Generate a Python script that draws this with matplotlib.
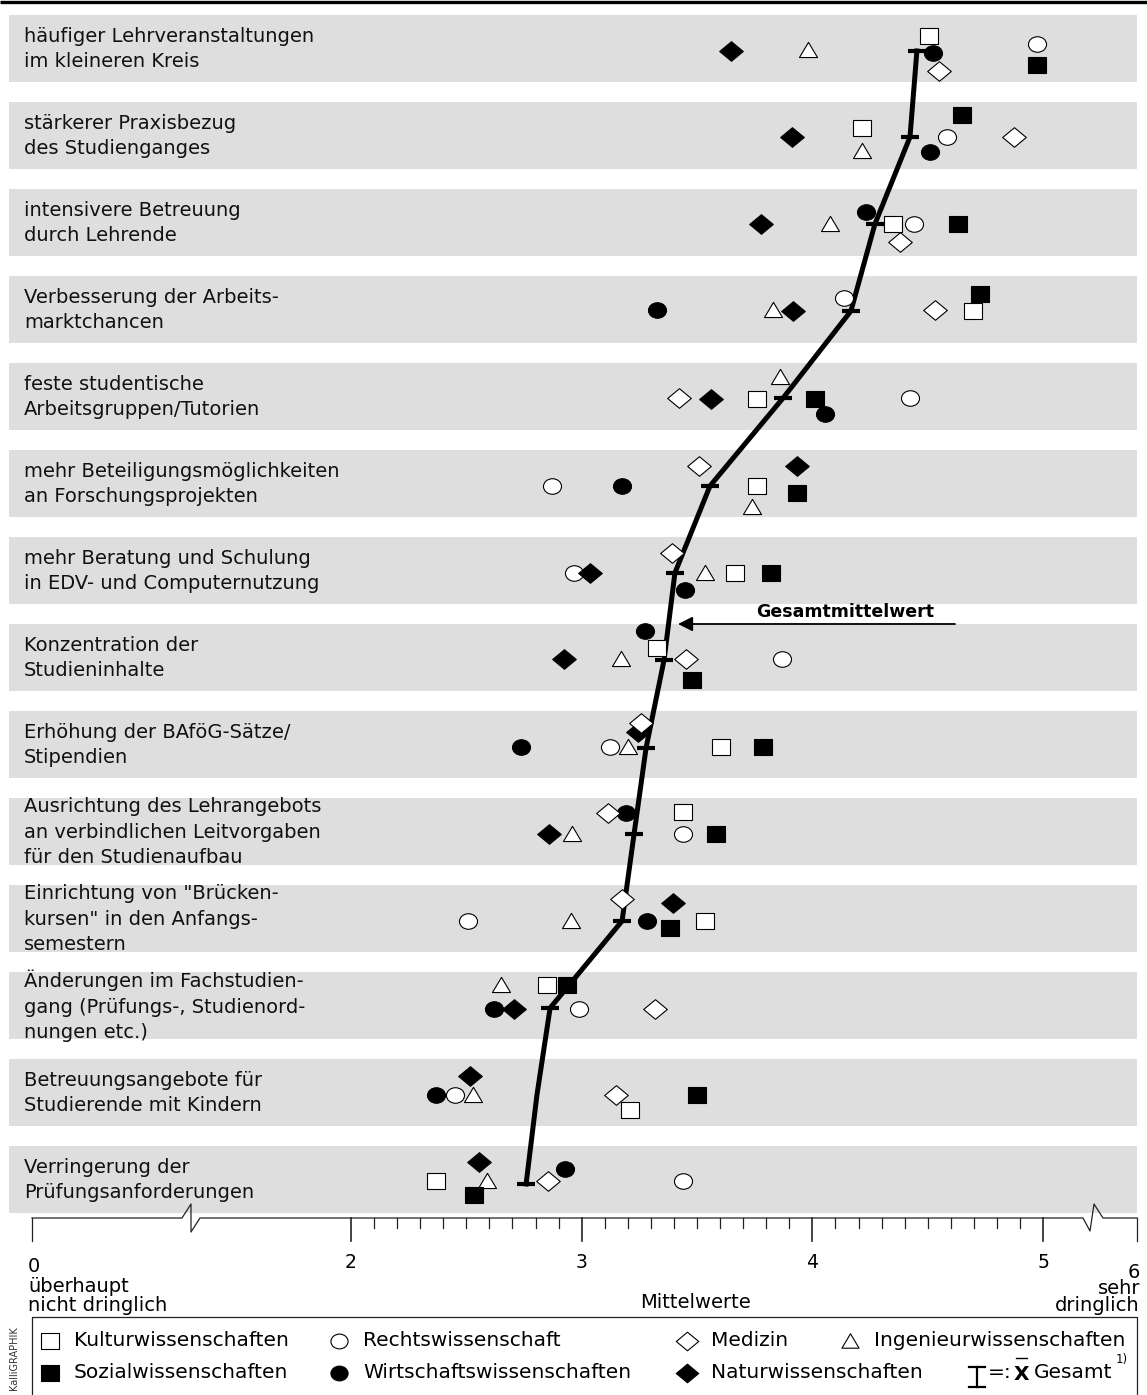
import numpy as np
import matplotlib
matplotlib.use("Agg")
import matplotlib.pyplot as plt
from matplotlib.path import Path

plt.rcParams['font.family'] = ['DejaVu Sans']

# ---------------- data ----------------
categories = [
    "häufiger Lehrveranstaltungen\nim kleineren Kreis",
    "stärkerer Praxisbezug\ndes Studienganges",
    "intensivere Betreuung\ndurch Lehrende",
    "Verbesserung der Arbeits-\nmarktchancen",
    "feste studentische\nArbeitsgruppen/Tutorien",
    "mehr Beteiligungsmöglichkeiten\nan Forschungsprojekten",
    "mehr Beratung und Schulung\nin EDV- und Computernutzung",
    "Konzentration der\nStudieninhalte",
    "Erhöhung der BAföG-Sätze/\nStipendien",
    "Ausrichtung des Lehrangebots\nan verbindlichen Leitvorgaben\nfür den Studienaufbau",
    "Einrichtung von \"Brücken-\nkursen\" in den Anfangs-\nsemestern",
    "Änderungen im Fachstudien-\ngang (Prüfungs-, Studienord-\nnungen etc.)",
    "Betreuungsangebote für\nStudierende mit Kindern",
    "Verringerung der\nPrüfungsanforderungen",
]

kultur     = [4.505, 4.215, 4.349, 4.696, 3.760, 3.760, 3.665, 3.326, 3.604, 3.439, 3.534, 2.850, 3.209, 2.368]
rechts     = [4.974, 4.583, 4.440, 4.137, 4.423, 2.871, 2.967, 3.868, 3.123, 3.439, 2.507, 2.988, 2.451, 3.439]
medizin    = [4.549, 4.874, 4.380, 4.531, 3.422, 3.508, 3.391, 3.452, 3.257, 3.114, 3.175, 3.318, 3.149, 2.854]
ingenieur  = [3.981, 4.215, 4.076, 3.829, 3.860, 3.738, 3.534, 3.170, 3.201, 2.958, 2.954, 2.650, 2.529, 2.590]
sozial     = [4.974, 4.648, 4.631, 4.726, 4.011, 3.933, 3.821, 3.478, 3.786, 3.582, 3.383, 2.936, 3.500, 2.533]
wirtschaft = [4.523, 4.510, 4.232, 3.326, 4.055, 3.175, 3.448, 3.274, 2.737, 3.192, 3.283, 2.620, 2.368, 2.928]
natur      = [3.647, 3.912, 3.777, 3.916, 3.560, 3.933, 3.036, 2.923, 3.244, 2.858, 3.396, 2.707, 2.516, 2.555]
gesamt     = [4.453, 4.423, 4.271, 4.167, 3.873, 3.556, 3.404, 3.357, 3.279, 3.227, 3.175, 2.863, 2.806, 2.759]

series_names = ["Kulturwissenschaften", "Rechtswissenschaft", "Medizin", "Ingenieurwissenschaften",
                "Sozialwissenschaften", "Wirtschaftswissenschaften", "Naturwissenschaften"]

major_ticks = [2, 3, 4, 5]

# ---------------- layout (pixel based) ----------------
W, H = 1147, 1395
PX2 = 351.0        # pixel of value 2
PXU = 230.7        # pixels per unit
ROW0 = 48.5        # pixel centre of first band
ROWH = 87.0        # pixel distance between bands


def vx(px):
    return 2 + (px - PX2) / PXU


def ry(py):
    return (py - ROW0) / ROWH


# vertical offsets (pixels) of the symbols inside each band, to avoid overlaps
off_k = [-12.5, -7.5, 1.5, 1.5, 2.5, 2, 2.5, -9.5, 2.5, -19.5, 2.5, -20.5, 17.5, 1.5]
off_r = [-4.5, 1.5, 1.5, -11.5, 1.5, 2, 2.5, 1.5, 2.5, 2.5, 2.5, 3.5, 2.5, 1.5]
off_m = [22.5, 1.5, 19.5, 0.5, 1.5, -18, -17.5, 1.5, -21.5, -18.5, -19.5, 3.5, 2.5, 1.5]
off_i = [1.5, 15.5, 1.5, 0.5, -19.5, 23, 2.5, 1.5, 2.5, 2.5, 2.5, -20.5, 2.5, 1.5]
off_s = [16.5, -20.5, 1.5, -15.5, 2.5, 9, 2.5, 22.5, 2.5, 2.5, 9.5, -20.5, 2.5, 15.5]
off_w = [4.5, 16.5, -10.5, 0.5, 17.5, 2, 19.5, -26.5, 2.5, -18.5, 2.5, 3.5, 2.5, -10.5]
off_n = [2.5, 1.5, 1.5, 1.5, 2.5, -18, 2.5, 1.5, -12.5, 2.5, -15.5, 3.5, -16.5, -17.5]
off_g = [2.5, 1.5, 1.5, 1.5, 1.5, 2.5, 2.5, 2.5, 3.5, 2.5, 2.5, 2.5, 2.5, 4.5]

# marker shapes (slightly flattened, like the original)
SQ = Path([(-1, -0.9), (1, -0.9), (1, 0.9), (-1, 0.9), (-1, -0.9)],
          [Path.MOVETO, Path.LINETO, Path.LINETO, Path.LINETO, Path.CLOSEPOLY])
_c = Path.unit_circle()
CI = Path(_c.vertices * np.array([1.0, 0.86]), _c.codes)
DI = Path([(0, -0.83), (1, 0), (0, 0.83), (-1, 0), (0, -0.83)],
          [Path.MOVETO, Path.LINETO, Path.LINETO, Path.LINETO, Path.CLOSEPOLY])
TR = Path([(-1, -0.78), (1, -0.78), (0, 0.9), (-1, -0.78)],
          [Path.MOVETO, Path.LINETO, Path.LINETO, Path.CLOSEPOLY])

styles = {
    "Kulturwissenschaften":      dict(marker=SQ, ms=13.0, mfc="white", z=6),
    "Rechtswissenschaft":        dict(marker=CI, ms=13.0, mfc="white", z=4),
    "Medizin":                   dict(marker=DI, ms=17.0, mfc="white", z=6),
    "Ingenieurwissenschaften":   dict(marker=TR, ms=13.0, mfc="white", z=6),
    "Sozialwissenschaften":      dict(marker=SQ, ms=13.0, mfc="black", z=7),
    "Wirtschaftswissenschaften": dict(marker=CI, ms=13.0, mfc="black", z=3),
    "Naturwissenschaften":       dict(marker=DI, ms=17.0, mfc="black", z=5),
}

values = {
    "Kulturwissenschaften": (kultur, off_k),
    "Rechtswissenschaft": (rechts, off_r),
    "Medizin": (medizin, off_m),
    "Ingenieurwissenschaften": (ingenieur, off_i),
    "Sozialwissenschaften": (sozial, off_s),
    "Wirtschaftswissenschaften": (wirtschaft, off_w),
    "Naturwissenschaften": (natur, off_n),
}

FS = 14
fig = plt.figure(figsize=(W / 100, H / 100), dpi=100)
ax = fig.add_axes([0, 0, 1, 1])
ax.set_xlim(vx(0), vx(W))
ax.set_ylim(ry(H), ry(0))
ax.axis("off")

rows = np.arange(len(categories))

# top rule
ax.plot([vx(0), vx(W)], [ry(1.5), ry(1.5)], color="black", lw=2.4, solid_capstyle="butt")

# grey bands
ax.barh(rows, vx(1137) - vx(9), left=vx(9), height=67 / ROWH, color="#dedede", zorder=0)

# row labels
for i, lab in enumerate(categories):
    ax.text(vx(24), i + 0.5 / ROWH, lab, ha="left", va="center", fontsize=FS,
            linespacing=1.45, color="#111111", zorder=2)

# overall mean line
g_y = rows + np.array(off_g) / ROWH
ax.plot(gesamt, g_y, color="black", lw=3.6, zorder=3, solid_joinstyle="round")
bar_rows = [i for i in rows if i != 12]
ax.plot([gesamt[i] for i in bar_rows], [g_y[i] for i in bar_rows], ls="none",
        marker="_", ms=12.5, mew=3.0, color="black", zorder=3)

# symbols
for name in series_names:
    vals, offs = values[name]
    st = styles[name]
    ax.plot(vals, rows + np.array(offs) / ROWH, ls="none", marker=st["marker"], ms=st["ms"],
            mfc=st["mfc"], mec="black", mew=0.8, zorder=st["z"])

# annotation "Gesamtmittelwert"
ax.annotate("", xy=(vx(678), ry(624)), xytext=(vx(955), ry(624)),
            arrowprops=dict(arrowstyle="-|>", color="black", lw=1.3, mutation_scale=22,
                            shrinkA=0, shrinkB=0), zorder=8)
ax.text(vx(845), ry(612), "Gesamtmittelwert", ha="center", va="center", fontsize=12.5,
        fontweight="bold", zorder=8)

# ---------------- x axis with breaks ----------------
AY = 1218
axis_pts = [(32, AY), (182, AY), (191, 1204), (191, 1232), (200, AY),
            (1083, AY), (1090, 1231), (1094, 1204), (1103, AY), (1137, AY)]
ax.plot([vx(p[0]) for p in axis_pts], [ry(p[1]) for p in axis_pts], color="#222222", lw=0.9)
for t in major_ticks:
    ax.plot([t, t], [ry(AY), ry(1241)], color="#222222", lw=1.2)
for t in np.arange(21, 50) / 10:
    if abs(t - round(t)) > 1e-6:
        ax.plot([t, t], [ry(AY), ry(1228)], color="#222222", lw=0.9)
for px in (32, 1137):
    ax.plot([vx(px), vx(px)], [ry(AY), ry(1241)], color="#222222", lw=0.9)
for t in major_ticks:
    ax.text(t, ry(1262), str(t), ha="center", va="center", fontsize=13.5)
ax.text(vx(28), ry(1286), "0\nüberhaupt\nnicht dringlich", ha="left", va="center",
        fontsize=FS, linespacing=1.05)
ax.text(vx(1140), ry(1289), "6\nsehr\ndringlich", ha="right", va="center",
        fontsize=FS, linespacing=0.85, multialignment="right")
ax.text(vx(695), ry(1302), "Mittelwerte", ha="center", va="center", fontsize=FS)

# ---------------- legend ----------------
ax.plot([vx(32), vx(32), vx(1137), vx(1137)], [ry(H + 5), ry(1317), ry(1317), ry(H + 5)],
        color="#222222", lw=0.9)
leg_pos = {
    "Kulturwissenschaften": (50, 1341),
    "Rechtswissenschaft": (339, 1341),
    "Medizin": (687, 1341),
    "Ingenieurwissenschaften": (850, 1341),
    "Sozialwissenschaften": (50, 1373),
    "Wirtschaftswissenschaften": (339, 1373),
    "Naturwissenschaften": (687, 1373),
}
for name in series_names:
    px, py = leg_pos[name]
    st = styles[name]
    ax.plot([vx(px)], [ry(py)], ls="none", marker=st["marker"], ms=st["ms"] * 0.95,
            mfc=st["mfc"], mec="black", mew=0.8)
    ax.text(vx(px + 24), ry(py), name, ha="left", va="center", fontsize=14.5)

# mean symbol in legend
ax.plot([vx(977), vx(977)], [ry(1367), ry(1387)], color="black", lw=1.6)
ax.plot([vx(969), vx(985)], [ry(1367), ry(1367)], color="black", lw=1.6)
ax.plot([vx(969), vx(985)], [ry(1387), ry(1387)], color="black", lw=1.6)
ax.text(vx(988), ry(1373), "=:", ha="left", va="center", fontsize=14.5)
ax.text(vx(1014), ry(1374), "X", ha="left", va="center", fontsize=14.5, fontweight="bold")
ax.plot([vx(1016), vx(1027)], [ry(1358), ry(1358)], color="black", lw=1.0)
ax.text(vx(1034), ry(1373), "Gesamt", ha="left", va="center", fontsize=14.5)
ax.text(vx(1116), ry(1359), "1)", ha="left", va="center", fontsize=8.5)

ax.text(vx(14), ry(1358), "KalliGRAPHIK", rotation=90, ha="center", va="center",
        fontsize=7, color="#333333")

fig.savefig("out.png", dpi=100)
